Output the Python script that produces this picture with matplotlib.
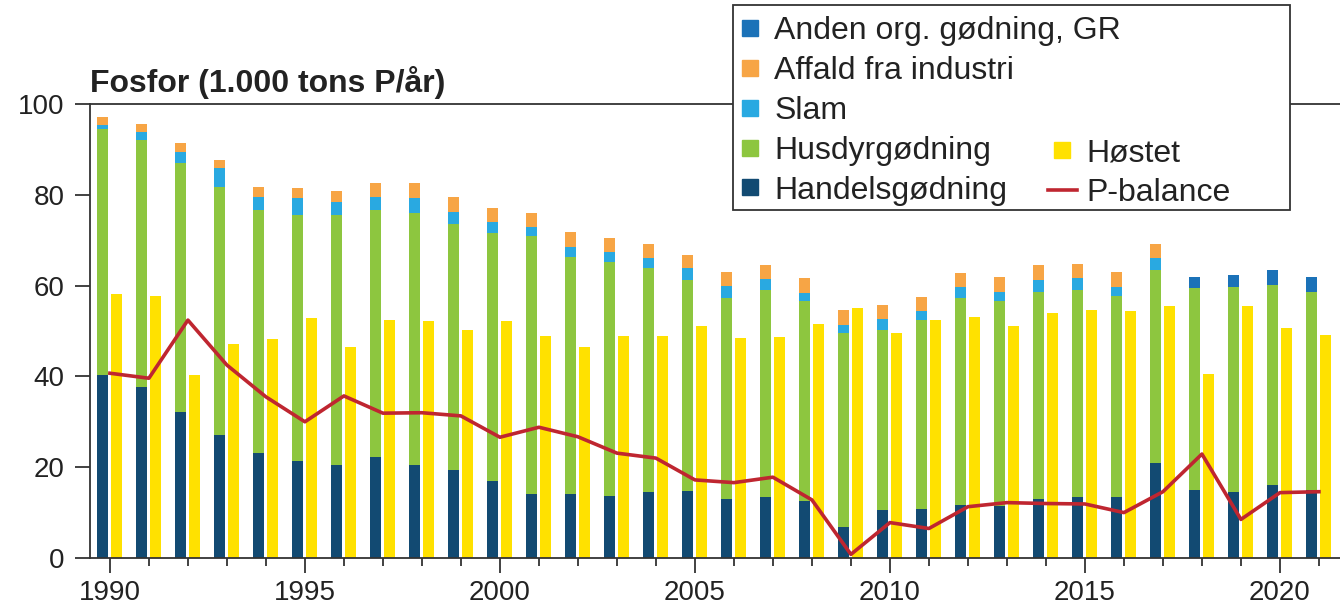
import numpy as np
import matplotlib
matplotlib.use("Agg")
from matplotlib import pyplot as plt
from matplotlib.lines import Line2D
from matplotlib.patches import Rectangle

plt.rcParams['font.family'] = ['Liberation Sans', 'DejaVu Sans']

# data (1.000 tons P per year)
years = np.arange(1990, 2022)
handels = [40.3, 37.7, 32.2, 27.1, 23.1, 21.4, 20.5, 22.3, 20.5, 19.4, 17.0, 14.2, 14.2, 13.7, 14.6, 14.8,
           13.0, 13.4, 12.5, 6.9, 10.6, 10.9, 11.7, 11.5, 13.1, 13.4, 13.4, 20.9, 15.0, 14.6, 16.1, 15.0]
husdyr = [54.3, 54.4, 54.7, 54.7, 53.6, 54.2, 55.1, 54.4, 55.4, 54.2, 54.5, 56.7, 52.2, 51.6, 49.2, 46.4,
          44.2, 45.6, 44.0, 42.6, 39.6, 41.5, 45.5, 45.0, 45.6, 45.6, 44.2, 42.5, 44.4, 45.2, 44.0, 43.7]
slam = [0.8, 1.8, 2.6, 4.0, 2.9, 3.6, 2.9, 2.9, 3.3, 2.7, 2.4, 2.1, 2.2, 2.0, 2.2, 2.6,
        2.8, 2.4, 1.9, 1.8, 2.4, 2.1, 2.6, 2.2, 2.5, 2.6, 2.2, 2.6, 0, 0, 0, 0]
affald = [1.8, 1.7, 1.8, 1.9, 2.2, 2.2, 2.4, 2.9, 3.3, 3.3, 3.3, 3.1, 3.1, 3.1, 3.2, 2.9,
          3.1, 3.1, 3.3, 3.3, 3.1, 2.9, 3.0, 3.3, 3.3, 3.2, 3.3, 3.2, 0, 0, 0, 0]
anden = [0] * 28 + [2.4, 2.5, 3.3, 3.3]
hoestet = [58.1, 57.6, 40.3, 47.1, 48.2, 52.9, 46.5, 52.4, 52.3, 50.2, 52.2, 48.9, 46.5, 48.9, 48.9, 51.1,
           48.4, 48.6, 51.5, 55.0, 49.5, 52.4, 53.0, 51.1, 53.9, 54.6, 54.5, 55.5, 40.5, 55.5, 50.6, 49.1]
pbalance = [40.7, 39.6, 52.4, 42.5, 35.5, 30.0, 35.7, 31.9, 32.0, 31.3, 26.6, 28.8, 26.7, 23.1, 22.0, 17.2,
            16.6, 17.8, 12.8, 0.8, 7.8, 6.5, 11.3, 12.2, 12.0, 11.9, 10.0, 14.6, 22.9, 8.5, 14.4, 14.6]

stack_names = ["Handelsgødning", "Husdyrgødning", "Slam", "Affald fra industri", "Anden org. gødning, GR"]
stack_data = [handels, husdyr, slam, affald, anden]
stack_colors = ["#124a72", "#8dc63f", "#29a9e1", "#f7a545", "#1b72b8"]
c_hoestet = "#ffe100"
c_line = "#bf2630"
c_axis = "#333333"

fig = plt.figure(figsize=(13.4, 6.05), dpi=100)
ax = fig.add_axes([90 / 1340, 1 - 558 / 605, 1 - 90 / 1340, 454 / 605])

w = 0.28
bottom = np.zeros(len(years))
for vals, col in zip(stack_data, stack_colors):
    ax.bar(years - 0.2, vals, w, bottom=bottom, color=col, zorder=2)
    bottom = bottom + np.array(vals)
ax.bar(years + 0.16, hoestet, w, color=c_hoestet, zorder=2)
ax.plot(years, pbalance, color=c_line, lw=2.6, zorder=3)

ax.set_xlim(1989.49, 2021.54)
ax.set_ylim(0, 100)
ax.set_yticks([0, 20, 40, 60, 80, 100])
ax.set_xticks(np.arange(1990, 2021, 5))
ax.set_xticks(years, minor=True)
ax.spines['right'].set_visible(False)
for s in ['left', 'bottom', 'top']:
    ax.spines[s].set_color(c_axis)
    ax.spines[s].set_linewidth(1.3)
ax.tick_params(axis='both', which='major', direction='out', length=10.5, width=1.3,
               color=c_axis, labelsize=20, labelcolor='#222222')
ax.tick_params(axis='y', pad=8)
ax.tick_params(axis='x', pad=5)
ax.tick_params(axis='x', which='minor', direction='out', length=6, width=1.3, color=c_axis)

ax.text(0, 1 + 12 / 454, "Fosfor (1.000 tons P/år)", transform=ax.transAxes,
        ha='left', va='baseline', fontsize=23, fontweight='bold', color='#222222')

# legend frame and the two legend columns
fig.patches.append(Rectangle((733 / 1340, 1 - 210 / 605), 557 / 1340, 205 / 605,
                             transform=fig.transFigure, facecolor='white',
                             edgecolor='#333333', lw=1.3, zorder=4))
h1 = [Line2D([], [], ls='none', marker='s', ms=12, color=c) for c in stack_colors[::-1]]
leg1 = fig.legend(h1, stack_names[::-1], loc='upper left', bbox_to_anchor=(736 / 1340, 1 - 16 / 605),
                  frameon=False, fontsize=23, handlelength=0.9, handletextpad=0.3,
                  labelspacing=0.31, borderpad=0, borderaxespad=0)
h2 = [Line2D([], [], ls='none', marker='s', ms=12, color=c_hoestet),
      Line2D([], [], color=c_line, lw=2.6)]
leg2 = fig.legend(h2, ["Høstet", "P-balance"], loc='upper left', bbox_to_anchor=(1048 / 1340, 1 - 138 / 605),
                  frameon=False, fontsize=23, handlelength=0.9, handletextpad=0.3,
                  labelspacing=0.31, borderpad=0, borderaxespad=0)
for lg in (leg1, leg2):
    lg.set_zorder(5)
    for t in lg.get_texts():
        t.set_color('#222222')

plt.savefig("out.png", dpi=100)
